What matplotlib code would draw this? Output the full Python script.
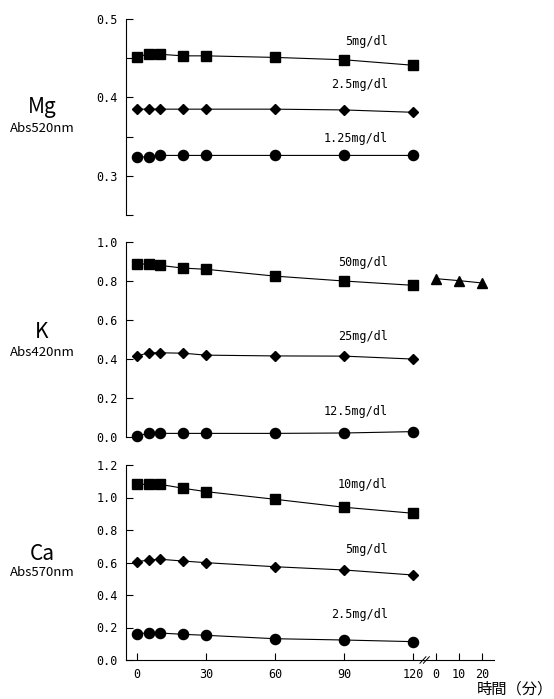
import numpy as np
import matplotlib.pyplot as plt

plt.rcParams['font.family'] = ['Noto Sans CJK JP', 'DejaVu Sans']

# sampling times (min); the second block after the axis break is 0, 10, 20 min
times = [0, 5, 10, 20, 30, 60, 90, 120]
after_times = [0, 10, 20]
after_offset = 130  # where "0" after the break sits on the shared x scale

# Mg, Abs520nm
mg_5 = [0.452, 0.455, 0.455, 0.453, 0.453, 0.451, 0.448, 0.441]
mg_25 = [0.385, 0.385, 0.385, 0.385, 0.385, 0.385, 0.384, 0.381]
mg_125 = [0.324, 0.324, 0.326, 0.326, 0.326, 0.326, 0.326, 0.326]

# K, Abs420nm
k_50 = [0.888, 0.884, 0.879, 0.865, 0.859, 0.824, 0.799, 0.777]
k_50_after = [0.811, 0.801, 0.789]
k_25 = [0.416, 0.432, 0.432, 0.430, 0.420, 0.416, 0.415, 0.400]
k_125 = [0.007, 0.020, 0.020, 0.020, 0.020, 0.020, 0.022, 0.029]

# Ca, Abs570nm
ca_10 = [1.081, 1.081, 1.081, 1.057, 1.036, 0.989, 0.940, 0.903]
ca_5 = [0.605, 0.615, 0.620, 0.609, 0.599, 0.574, 0.554, 0.523]
ca_25 = [0.160, 0.168, 0.166, 0.158, 0.152, 0.131, 0.123, 0.113]

W, H = 554, 699
fig = plt.figure(figsize=(W / 100, H / 100), dpi=100)


def px_axes(left, right, top, bottom):
    return fig.add_axes([left / W, 1 - bottom / H, (right - left) / W, (bottom - top) / H])


xlim = (-4.8, 155.2)
ax_mg = px_axes(126, 494, 19, 215)
ax_k = px_axes(126, 494, 241.7, 437.3)
ax_ca = px_axes(126, 494, 465, 660)

lw = 0.8
ms = 7.3
sq = dict(marker='s', color='black', lw=lw, ms=ms)
dm = dict(marker='D', color='black', lw=lw, ms=5.5)
ci = dict(marker='o', color='black', lw=lw, ms=ms)

# Mg
ax_mg.plot(times, mg_5, **sq)
ax_mg.plot(times, mg_25, **dm)
ax_mg.plot(times, mg_125, **ci)
ax_mg.set_ylim(0.25, 0.5)
ax_mg.set_yticks([0.25, 0.3, 0.35, 0.4, 0.45, 0.5])
ax_mg.set_yticklabels(['', '0.3', '', '0.4', '', '0.5'])

# K
ax_k.plot(times, k_50, **sq)
ax_k.plot([after_offset + t for t in after_times], k_50_after, marker='^', color='black', lw=lw, ms=ms)
ax_k.plot(times, k_25, **dm)
ax_k.plot(times, k_125, **ci)
ax_k.set_ylim(0, 1.0)
ax_k.set_yticks([0, 0.2, 0.4, 0.6, 0.8, 1.0])
ax_k.set_yticklabels(['0.0', '0.2', '0.4', '0.6', '0.8', '1.0'])

# Ca
ax_ca.plot(times, ca_10, **sq)
ax_ca.plot(times, ca_5, **dm)
ax_ca.plot(times, ca_25, **ci)
ax_ca.set_ylim(0, 1.2)
ax_ca.set_yticks([0, 0.2, 0.4, 0.6, 0.8, 1.0, 1.2])
ax_ca.set_yticklabels(['0.0', '0.2', '0.4', '0.6', '0.8', '1.0', '1.2'])

xticks = [0, 30, 60, 90, 120] + [after_offset + t for t in after_times]
xlabels = ['0', '30', '60', '90', '120'] + [str(t) for t in after_times]

for ax in (ax_mg, ax_k, ax_ca):
    ax.set_xlim(*xlim)
    ax.patch.set_alpha(0)
    for s in ('top', 'right'):
        ax.spines[s].set_visible(False)
    ax.spines['left'].set_linewidth(lw)
    ax.tick_params(axis='y', direction='in', length=5, width=lw, labelsize=8.5, pad=6)
    for lab in ax.get_yticklabels():
        lab.set_family(['DejaVu Sans Mono'])
    for ln in ax.get_lines():
        ln.set_clip_on(False)

for ax in (ax_mg, ax_k):
    ax.spines['bottom'].set_visible(False)
    ax.set_xticks([])

ax_ca.spines['bottom'].set_linewidth(lw)
ax_ca.set_xticks(xticks)
ax_ca.set_xticklabels(xlabels, family=['DejaVu Sans Mono'])
ax_ca.tick_params(axis='x', direction='in', length=5, width=lw, labelsize=8.5, pad=6)

# axis break marks "//"
for x0 in (123.0, 124.5):
    ax_ca.plot([x0, x0 + 2.6], [-0.02, 0.02], color='black', lw=0.7, clip_on=False)

# series labels
lab_kw = dict(ha='right', va='center', fontsize=8.5, family=['DejaVu Sans Mono'])
ax_mg.text(109, 0.471, '5mg/dl', **lab_kw)
ax_mg.text(109, 0.416, '2.5mg/dl', **lab_kw)
ax_mg.text(109, 0.348, '1.25mg/dl', **lab_kw)
ax_k.text(109, 0.894, '50mg/dl', **lab_kw)
ax_k.text(109, 0.514, '25mg/dl', **lab_kw)
ax_k.text(109, 0.134, '12.5mg/dl', **lab_kw)
ax_ca.text(109, 1.077, '10mg/dl', **lab_kw)
ax_ca.text(109, 0.683, '5mg/dl', **lab_kw)
ax_ca.text(109, 0.277, '2.5mg/dl', **lab_kw)

# element labels on the left
for y_big, y_small, big, small in ((107, 128, 'Mg', 'Abs520nm'),
                                   (331.7, 353, 'K', 'Abs420nm'),
                                   (554, 573, 'Ca', 'Abs570nm')):
    fig.text(42 / W, 1 - y_big / H, big, ha='center', va='center', fontsize=15)
    fig.text(42 / W, 1 - y_small / H, small, ha='center', va='center', fontsize=9.5)

fig.text(553 / W, 1 - 689 / H, '時間（分）', ha='right', va='center', fontsize=11)

fig.savefig('out.png', dpi=100)
